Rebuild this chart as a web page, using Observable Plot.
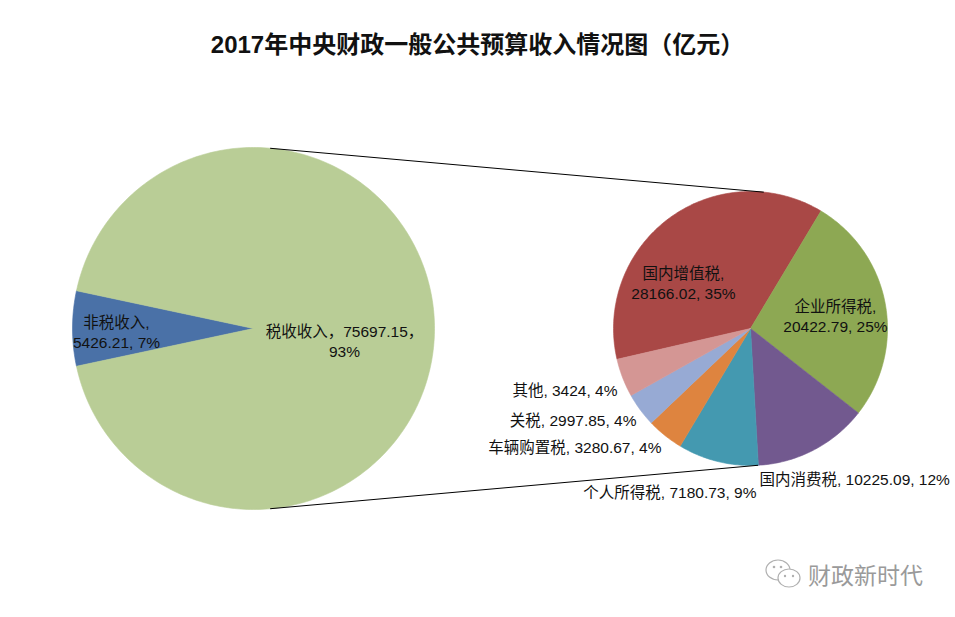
<!DOCTYPE html>
<html>
<head>
<meta charset="utf-8">
<script src="https://cdn.jsdelivr.net/npm/d3@7"></script>
<script src="https://cdn.jsdelivr.net/npm/@observablehq/plot@0.6"></script>
<style>
  html, body { margin: 0; padding: 0; background: #fff; }
  #wrap { position: relative; width: 955px; height: 617px; overflow: hidden; }
  #chart { position: absolute; left: 0; top: 0; }
  #title { position: absolute; left: 0; top: 30px; width: 955px; text-align: center;
           font: bold 24px "Liberation Sans", "Noto Sans CJK SC", sans-serif; line-height: 30px; color: #111; }
  #mark { position: absolute; left: 764px; top: 557px; display: flex; align-items: center;
          font: 23px "Noto Sans CJK SC", sans-serif; color: #9a9a9a; }
</style>
</head>
<body>
<div id="wrap">
  <div id="chart"></div>
  <div id="title">2017年中央财政一般公共预算收入情况图（亿元）</div>
  <div id="mark">
    <svg width="40" height="34" viewBox="0 0 40 34" style="margin-right:4px">
      <ellipse cx="14" cy="13" rx="12" ry="10" fill="none" stroke="#b0b0b0" stroke-width="1.2"/>
      <ellipse cx="25" cy="21" rx="11" ry="9" fill="#fff" stroke="#b0b0b0" stroke-width="1.2"/>
      <circle cx="10" cy="10" r="1.3" fill="#b0b0b0"/><circle cx="17" cy="10" r="1.3" fill="#b0b0b0"/>
      <circle cx="21" cy="19" r="1.2" fill="#b0b0b0"/><circle cx="29" cy="19" r="1.2" fill="#b0b0b0"/>
    </svg>
    <span>财政新时代</span>
  </div>
</div>
<script>
// ---- data ----
const bigCategories = ["非税收入", "税收收入"];
const bigValues = [5426.21, 75697.15];
const bigPct = ["7%", "93%"];

const smallCategories = ["国内增值税", "企业所得税", "国内消费税", "个人所得税", "车辆购置税", "关税", "其他"];
const smallValues = [28166.02, 20422.79, 10225.09, 7180.73, 3280.67, 2997.85, 3424];
const smallPct = ["35%", "25%", "12%", "9%", "4%", "4%", "4%"];

// ---- styling / layout ----
const bigColors = ["#4A71A7", "#B9CD96"];
const smallColors = ["#A94846", "#8DA853", "#72598F", "#4499B0", "#DE843F", "#97AAD4", "#D49694"];
const big = {cx: 253, cy: 328, r: 181};
const small = {cx: 750, cy: 328, r: 137, start: 257};

function pt(p, aDeg, r) {
  const a = aDeg * Math.PI / 180;
  return {x: p.cx + r * Math.sin(a), y: p.cy - r * Math.cos(a)};
}
function slicePoly(p, a0, a1, key) {
  const pts = [{...pt(p, 0, 0), key}];
  const n = Math.max(2, Math.ceil(Math.abs(a1 - a0)));
  for (let i = 0; i <= n; i++) pts.push({...pt(p, a0 + (a1 - a0) * i / n, p.r), key});
  pts.push({...pt(p, 0, 0), key});
  return pts;
}

// big pie: non-tax slice centred on the left
const bigTotal = d3.sum(bigValues);
const ntSpan = bigValues[0] / bigTotal * 360;
const bigSlices = [
  {key: bigCategories[0], color: bigColors[0], pts: slicePoly(big, 270 - ntSpan / 2, 270 + ntSpan / 2, 0)},
  {key: bigCategories[1], color: bigColors[1], pts: slicePoly(big, 270 + ntSpan / 2, 270 - ntSpan / 2 + 360, 1)}
];

// small pie
const smallTotal = d3.sum(smallValues);
let acc = small.start;
const smallSlices = smallValues.map((v, i) => {
  const span = v / smallTotal * 360;
  const s = {key: smallCategories[i], color: smallColors[i], pts: slicePoly(small, acc, acc + span, i)};
  acc += span;
  return s;
});

// connector lines
const connectors = [
  [{...pt(big, 5.4, big.r), k: 0}, {...pt(small, 5.4, small.r), k: 0}],
  [{...pt(big, 174.6, big.r), k: 1}, {...pt(small, 177, small.r), k: 1}]
].flat();

// labels
const labels = [
  {text: `${bigCategories[0]},\n${bigValues[0]}, ${bigPct[0]}`, x: 116, y: 331, anchor: "middle"},
  {text: `${bigCategories[1]}，${bigValues[1]}，\n${bigPct[1]}`, x: 344, y: 340, anchor: "middle"},
  {text: `${smallCategories[0]},\n${smallValues[0]}, ${smallPct[0]}`, x: 683, y: 282, anchor: "middle"},
  {text: `${smallCategories[1]},\n${smallValues[1]}, ${smallPct[1]}`, x: 835, y: 315, anchor: "middle"},
  {text: `${smallCategories[2]}, ${smallValues[2]}, ${smallPct[2]}`, x: 759, y: 478, anchor: "start"},
  {text: `${smallCategories[3]}, ${smallValues[3]}, ${smallPct[3]}`, x: 756, y: 491, anchor: "end"},
  {text: `${smallCategories[4]}, ${smallValues[4]}, ${smallPct[4]}`, x: 661, y: 446, anchor: "end"},
  {text: `${smallCategories[5]}, ${smallValues[5]}, ${smallPct[5]}`, x: 636, y: 419, anchor: "end"},
  {text: `${smallCategories[6]}, ${smallValues[6]}, ${smallPct[6]}`, x: 617, y: 389, anchor: "end"}
];

const sliceMarks = [...bigSlices, ...smallSlices].map(s =>
  Plot.line(s.pts, {x: "x", y: "y", fill: s.color, stroke: s.color, strokeWidth: 0.6, curve: "linear"})
);

const font = '"Liberation Sans", "Noto Sans CJK SC", sans-serif';
const textMarks = ["start", "middle", "end"].map(a =>
  Plot.text(labels.filter(d => d.anchor === a), {
    x: "x", y: "y", text: "text", textAnchor: a, lineHeight: 1.3,
    fontSize: 15.5, fill: "#111", fontFamily: font
  })
);

const chart = Plot.plot({
  width: 955, height: 617,
  marginTop: 0, marginRight: 0, marginBottom: 0, marginLeft: 0,
  x: {domain: [0, 955], range: [0, 955], axis: null},
  y: {domain: [0, 617], range: [0, 617], axis: null},
  style: {background: "#fff", fontFamily: font},
  marks: [
    ...sliceMarks,
    Plot.line(connectors, {x: "x", y: "y", z: "k", stroke: "#000", strokeWidth: 1}),
    ...textMarks
  ]
});
document.getElementById("chart").appendChild(chart);
</script>
</body>
</html>
